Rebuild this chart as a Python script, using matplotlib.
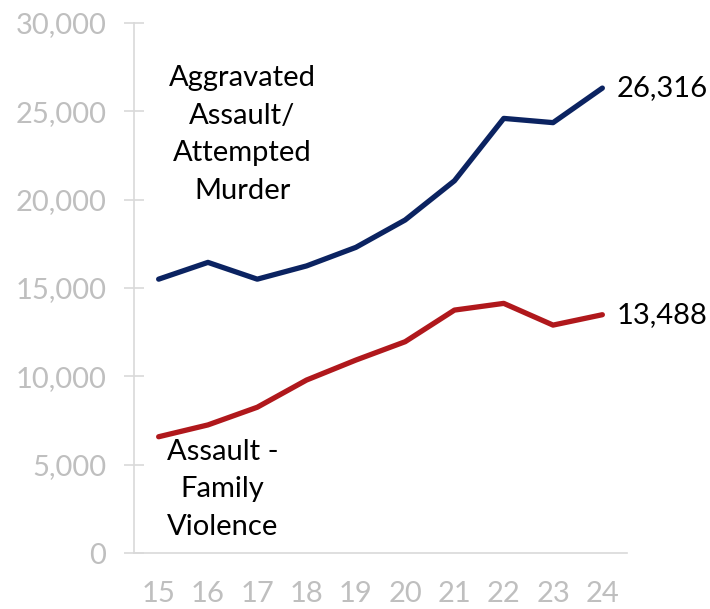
import matplotlib.pyplot as plt
from matplotlib.ticker import FuncFormatter

plt.rcParams['font.family'] = ['Lato', 'DejaVu Sans']

years = [15, 16, 17, 18, 19, 20, 21, 22, 23, 24]
aggravated = [15500, 16450, 15500, 16250, 17300, 18850, 21070, 24600, 24360, 26316]
family_violence = [6580, 7250, 8250, 9790, 10920, 11960, 13750, 14130, 12900, 13488]

BLUE = "#0b2361"
RED = "#b0181c"
GREY_TXT = "#bfbfbf"
GREY_AX = "#d9d9d9"

fig = plt.figure(figsize=(7.10, 6.09), dpi=100)
ax = fig.add_axes([134 / 710, 56 / 609, 493 / 710, 530 / 609])

ax.plot(years, aggravated, color=BLUE, lw=3.8, solid_capstyle="round", solid_joinstyle="round")
ax.plot(years, family_violence, color=RED, lw=3.8, solid_capstyle="round", solid_joinstyle="round")

ax.set_xlim(14.5, 24.5)
ax.set_ylim(0, 30000)
ax.set_yticks(range(0, 30001, 5000))
ax.yaxis.set_major_formatter(FuncFormatter(lambda v, p: f"{int(v):,}"))
ax.set_xticks(years)
ax.set_xticklabels([str(y) for y in years])

for s in ["top", "right"]:
    ax.spines[s].set_visible(False)
for s in ["left", "bottom"]:
    ax.spines[s].set_color(GREY_AX)
    ax.spines[s].set_linewidth(1.2)

ax.tick_params(axis="y", direction="inout", length=14, width=1.2, color=GREY_AX,
               labelsize=21, labelcolor=GREY_TXT, pad=13)
ax.tick_params(axis="x", length=0, labelsize=21, labelcolor=GREY_TXT, pad=20)

# end-of-line values
ax.annotate(f"{aggravated[-1]:,}", (years[-1], aggravated[-1]), xytext=(10, 0),
            textcoords="offset points", ha="left", va="center", fontsize=21, color="black")
ax.annotate(f"{family_violence[-1]:,}", (years[-1], family_violence[-1]), xytext=(10, 0),
            textcoords="offset points", ha="left", va="center", fontsize=21, color="black")

# series names
ax.text(16.7, 23700, "Aggravated\nAssault/\nAttempted\nMurder", ha="center", va="center",
        fontsize=21, color="black", linespacing=1.55)
ax.text(16.3, 3600, "Assault -\nFamily\nViolence", ha="center", va="center",
        fontsize=21, color="black", linespacing=1.55)

fig.savefig("out.png", dpi=100)
